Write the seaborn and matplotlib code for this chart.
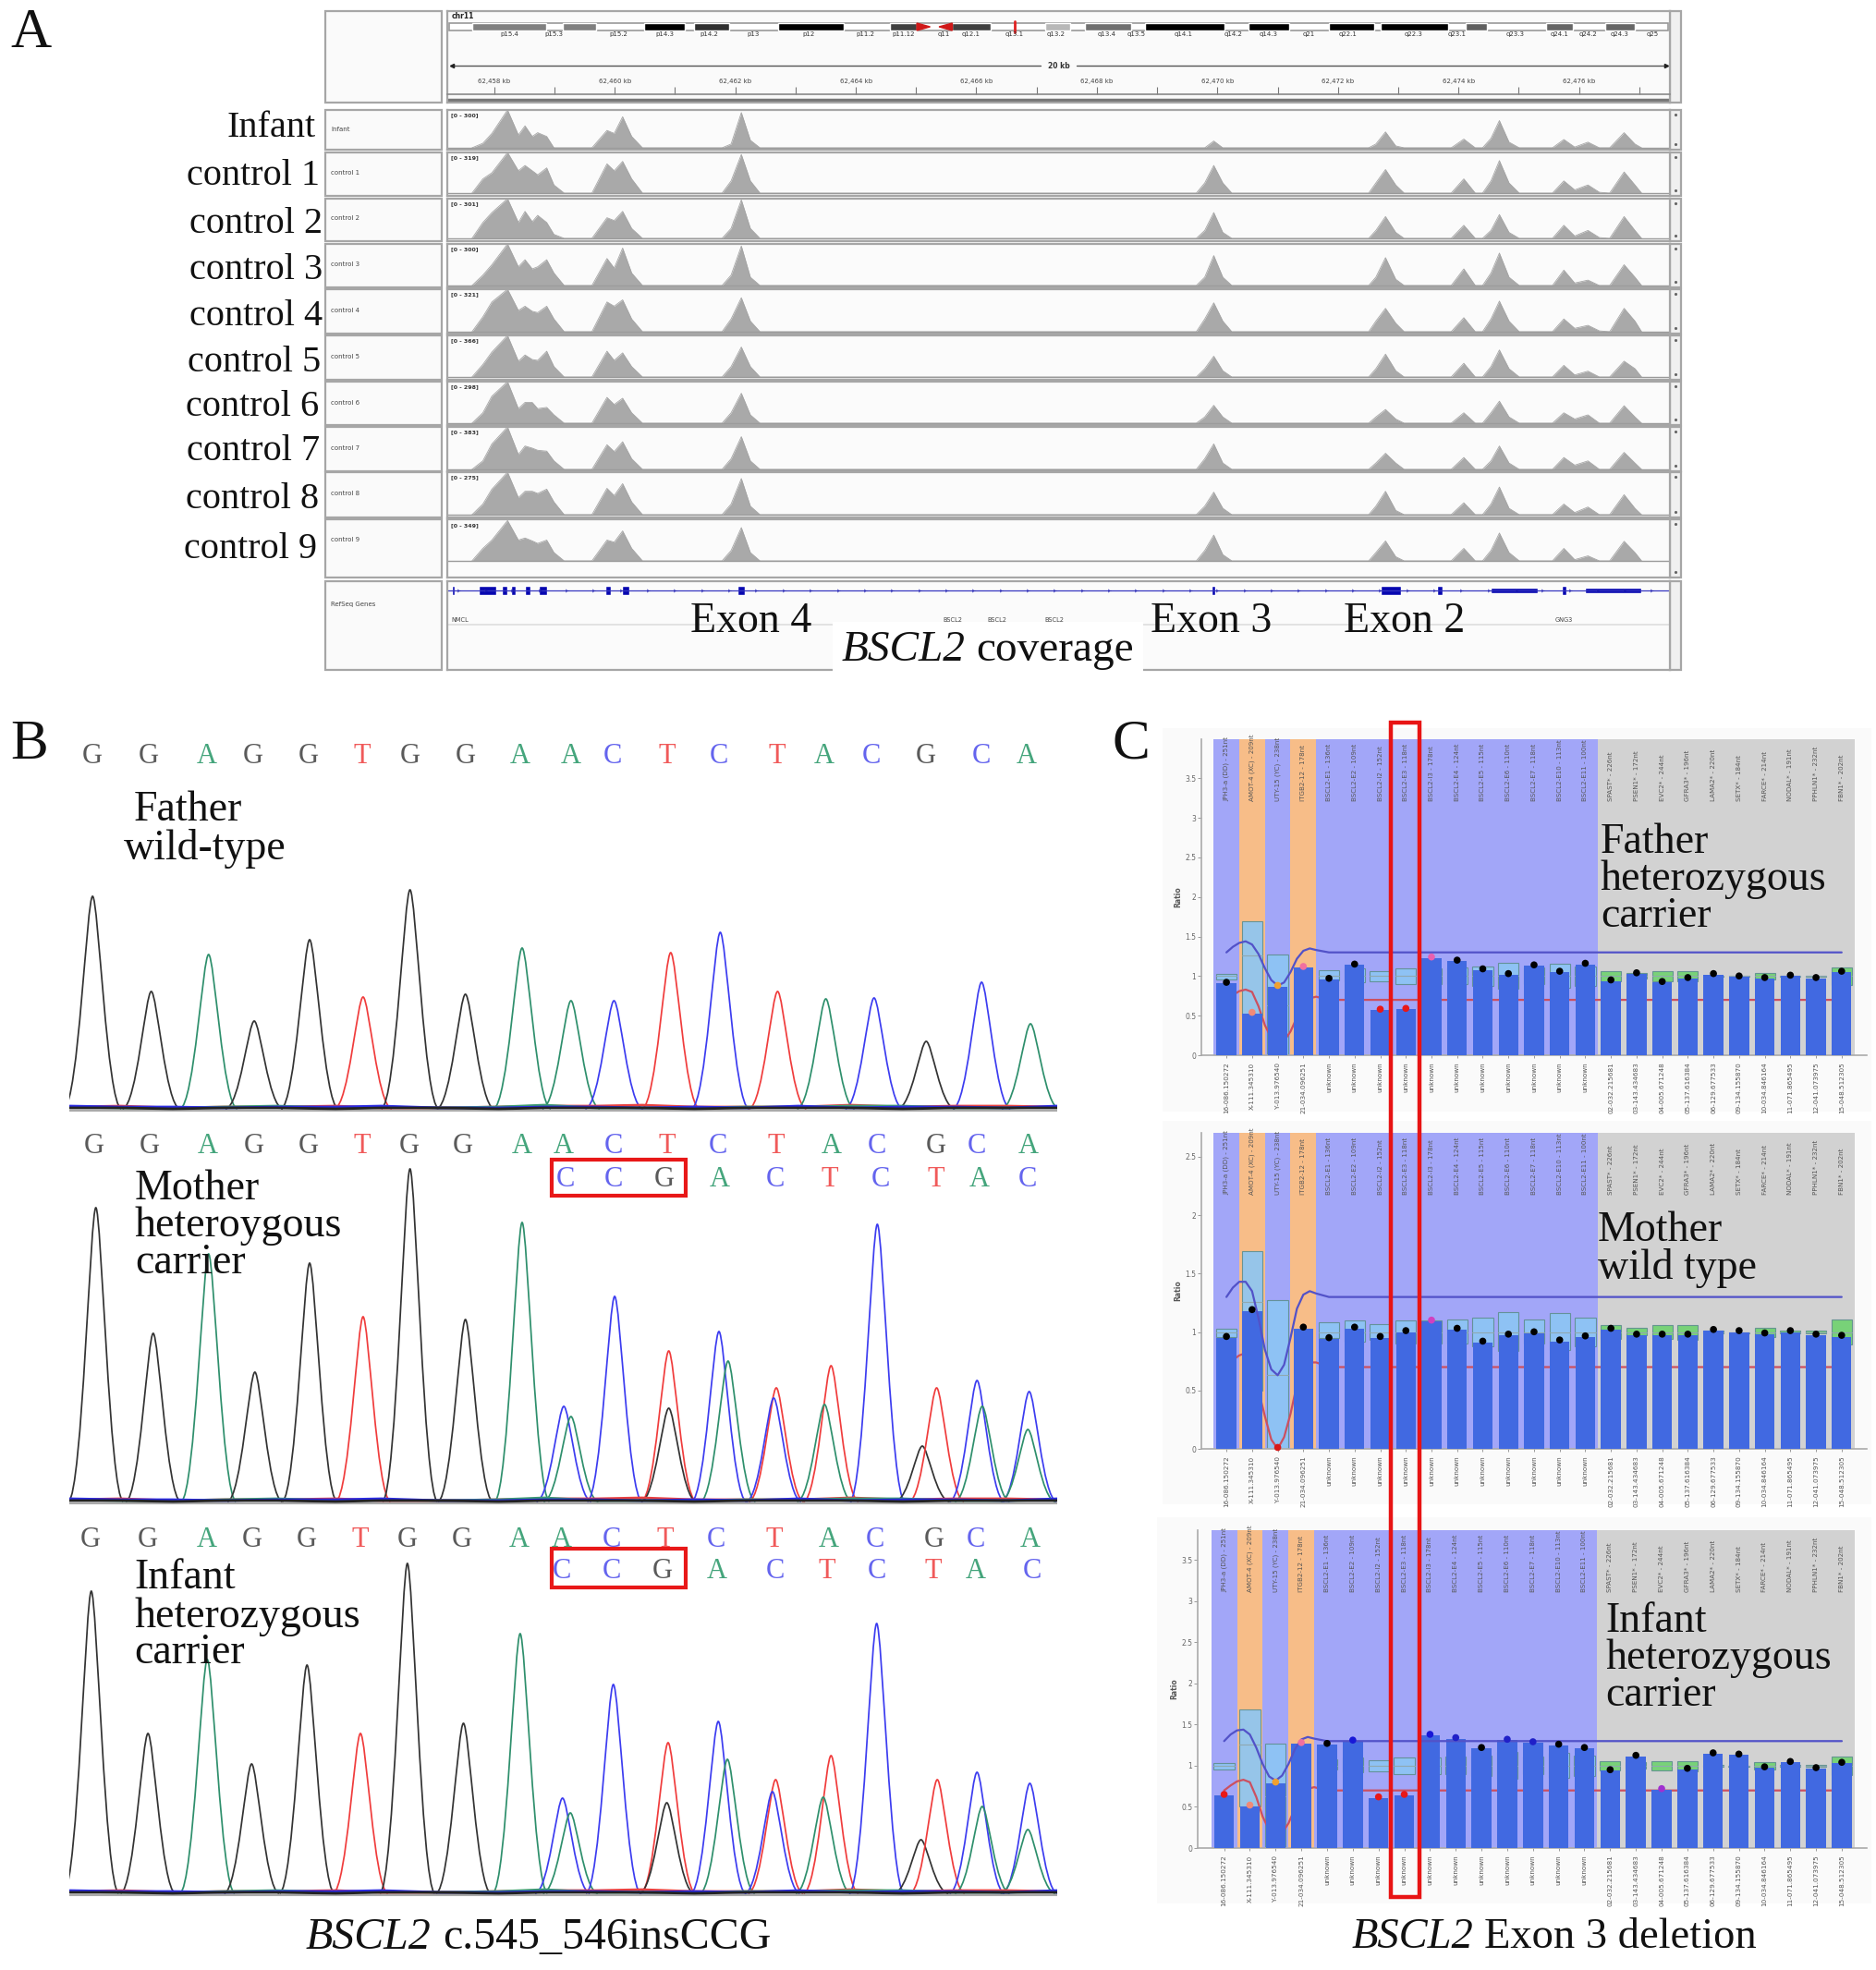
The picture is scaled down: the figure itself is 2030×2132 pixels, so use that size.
#!/usr/bin/env python
# -*- coding: utf-8 -*-

import numpy as np
import matplotlib
matplotlib.use("Agg")
import matplotlib.pyplot as plt
from matplotlib.patches import Rectangle, PathPatch
from matplotlib.path import Path
from matplotlib.transforms import blended_transform_factory
import seaborn as sns

sns.set_theme(style="white")
plt.rcParams['font.family'] = ['Liberation Serif', 'DejaVu Serif']
plt.rcParams['axes.unicode_minus'] = False

W, H = 2031, 2132

## Panel A data: coverage knots, kb from 62,458 kb
cov_pos = [-0.37, -0.19, -0.04, 0.22, 0.40, 0.51, 0.63, 0.72, 0.87, 0.99, 1.16,
           1.62, 1.87, 1.99, 2.13, 2.28, 2.46,
           3.78, 3.93, 4.10, 4.25, 4.41,
           11.65, 11.79, 11.94, 12.09, 12.24,
           14.51, 14.63, 14.79, 14.96, 15.10,
           15.88, 16.09, 16.28,
           16.40, 16.54, 16.68, 16.84, 17.01,
           17.56, 17.75, 17.93, 18.15, 18.34,
           18.51, 18.75, 18.93, 19.04]

cov_infant = [0, .12, .38, 1, .34, .58, .3, .4, .3, 0, 0, 0, .46, .38, .82, .3, 0, 0, .1, .93, .2, 0,
              0, 0, .18, 0, 0, 0, .1, .42, .05, 0, 0, .23, 0, 0, .25, .72, .15, 0, 0, .22, .02, .15, 0, 0, .4, .1, 0]
cov_control1 = [0, .35, .5, 1, .55, .68, .55, .45, .62, .2, 0, 0, .72, .55, .78, .35, 0, 0, .3, .95, .3, 0,
                0, .25, .68, .25, 0, 0, .25, .58, .2, 0, 0, .35, 0, 0, .3, .8, .25, 0, 0, .3, .08, .2, .02, 0, .52, .2, 0]
cov_control2 = [0, .4, .65, 1, .4, .68, .42, .58, .4, .1, 0, 0, .52, .45, .68, .25, 0, 0, .25, .97, .25, 0,
                0, .2, .65, .15, 0, 0, .2, .55, .15, 0, 0, .33, 0, 0, .2, .6, .15, 0, 0, .33, .06, .2, .02, 0, .55, .2, 0]
cov_control3 = [0, .25, .5, 1, .45, .62, .4, .45, .62, .3, 0, 0, .65, .42, .9, .3, 0, 0, .25, .95, .2, 0,
                0, .2, .72, .2, 0, 0, .2, .67, .15, 0, 0, .4, 0, 0, .3, .78, .2, 0, 0, .37, .06, .13, 0, 0, .5, .2, 0]
cov_control4 = [0, .35, .7, 1, .5, .6, .48, .45, .6, .3, 0, 0, .7, .6, .75, .3, 0, 0, .3, .8, .25, 0,
                0, .3, .68, .25, 0, 0, .25, .55, .2, 0, 0, .33, 0, 0, .3, .72, .25, 0, 0, .3, .08, .15, .02, 0, .55, .25, 0]
cov_control5 = [0, .3, .6, 1, .38, .53, .42, .4, .62, .25, 0, 0, .62, .4, .58, .25, 0, 0, .25, .72, .25, 0,
                0, .2, .5, .15, 0, 0, .2, .55, .15, 0, 0, .33, 0, 0, .25, .65, .2, 0, 0, .28, .05, .14, 0, 0, .38, .2, 0]
cov_control6 = [0, .25, .65, 1, .35, .5, .5, .35, .38, .2, 0, 0, .62, .45, .6, .25, 0, 0, .25, .72, .2, 0,
                0, .15, .43, .15, 0, 0, .15, .33, .1, 0, 0, .25, 0, 0, .25, .53, .15, 0, 0, .25, .1, .2, 0, 0, .42, .15, 0]
cov_control7 = [0, .2, .6, 1, .35, .55, .5, .45, .43, .2, 0, 0, .58, .42, .65, .25, 0, 0, .25, .77, .2, 0,
                0, .25, .6, .15, 0, 0, .15, .38, .15, 0, 0, .28, 0, 0, .2, .55, .15, 0, 0, .28, .1, .2, 0, 0, .4, .15, 0]
cov_control8 = [0, .25, .6, 1, .4, .55, .55, .5, .6, .3, 0, 0, .62, .45, .73, .3, 0, 0, .25, .85, .2, 0,
                0, .2, .53, .15, 0, 0, .2, .55, .1, 0, 0, .28, 0, 0, .25, .65, .15, 0, 0, .25, .05, .18, 0, 0, .47, .15, 0]
cov_control9 = [0, .3, .5, .97, .5, .55, .48, .42, .5, .2, 0, 0, .5, .45, .72, .3, 0, 0, .25, .8, .2, 0,
                0, .25, .62, .15, 0, 0, .2, .48, .1, 0, 0, .3, 0, 0, .25, .67, .2, 0, 0, .3, .03, .12, 0, 0, .47, .2, 0]

track_names = ["Infant", "control 1", "control 2", "control 3", "control 4",
               "control 5", "control 6", "control 7", "control 8", "control 9"]
track_ranges = ["[0 - 300]", "[0 - 319]", "[0 - 301]", "[0 - 300]", "[0 - 321]",
                "[0 - 366]", "[0 - 298]", "[0 - 383]", "[0 - 275]", "[0 - 349]"]
track_values = [cov_infant, cov_control1, cov_control2, cov_control3, cov_control4,
                cov_control5, cov_control6, cov_control7, cov_control8, cov_control9]

exon_start = [-0.71, -0.26, 0.13, 0.28, 0.51, 0.74, 1.84, 2.12, 4.04, 11.91, 14.71, 15.65, 17.72]
exon_end = [-0.65, 0.03, 0.21, 0.35, 0.60, 0.87, 1.94, 2.24, 4.16, 11.97, 15.04, 15.74, 17.79]
utr_start = [16.54, 18.10]
utr_end = [17.31, 19.03]

band_start = [178, 280, 372, 429, 523, 650, 720, 825, 870, 938, 1054, 1145, 1203, 1300, 1390, 1457]
band_end = [262, 318, 418, 468, 597, 680, 763, 853, 922, 1027, 1100, 1196, 1280, 1323, 1420, 1490]
band_grey = ['#808080', '#808080', '#000000', '#303030', '#000000', '#404040', '#404040', '#b8b8b8',
             '#707070', '#000000', '#000000', '#000000', '#000000', '#606060', '#666666', '#666666']
band_names = ["p15.4", "p15.3", "p15.2", "p14.3", "p14.2", "p13", "p12", "p11.2", "p11.12", "q11", "q12.1",
              "q13.1", "q13.2", "q13.4", "q13.5", "q14.1", "q14.2", "q14.3", "q21", "q22.1", "q22.3", "q23.1",
              "q23.3", "q24.1", "q24.2", "q24.3", "q25"]
band_name_pos = [220, 270, 343, 395, 446, 495, 558, 622, 665, 710, 741, 790, 837, 894, 928, 981, 1037, 1077,
                 1122, 1167, 1241, 1290, 1355, 1405, 1438, 1473, 1510]

## Panel B data: trace peaks, scan position and height
calls_top = "GGAGGTGGAACTCTACGCA"
calls_ins = "CCGACTCTAC"
father_peak_x = [57, 147, 235, 305, 390, 472, 544, 629, 716, 791, 857, 944, 1020, 1108, 1182, 1256, 1336, 1421, 1496]
father_peak_h = [230, 127, 167, 95, 183, 121, 237, 124, 174, 117, 117, 169, 191, 127, 119, 120, 73, 137, 92]
father_call_x = [57, 143, 232, 303, 388, 470, 544, 629, 713, 791, 855, 938, 1018, 1107, 1179, 1252, 1336, 1420, 1490]

hetero_bases = "GGAGGTGGACACTGCATCTACGTCACA"
mother_peak_x = [62, 150, 235, 306, 390, 472, 544, 629, 716, 780, 791, 858, 941, 941, 1018, 1032, 1106, 1102, 1190,
                 1180, 1261, 1330, 1352, 1414, 1422, 1494, 1492]
mother_peak_h = [318, 182, 268, 140, 258, 200, 360, 197, 302, 103, 92, 222, 163, 101, 184, 152, 123, 112, 147,
                 105, 300, 60, 123, 131, 103, 119, 78]
mother_call_x = [60, 145, 233, 305, 388, 470, 543, 625, 715, 780, 856, 938, 1017, 1106, 1190, 1261, 1351, 1414, 1492]
mother_ins_x = [783, 856, 934, 1019, 1105, 1188, 1266, 1351, 1417, 1491]

infant_peak_x = [55, 142, 233, 301, 386, 468, 540, 626, 713, 778, 790, 856, 940, 938, 1017, 1031, 1105, 1100, 1190,
                 1178, 1260, 1328, 1353, 1414, 1422, 1495, 1492]
infant_peak_h = [327, 173, 253, 140, 247, 173, 357, 184, 281, 103, 87, 226, 163, 98, 186, 145, 123, 110, 149,
                 104, 292, 58, 123, 131, 94, 119, 69]
infant_call_x = [53, 142, 232, 302, 386, 467, 540, 624, 712, 777, 853, 936, 1014, 1103, 1187, 1258, 1348, 1412, 1495]
infant_ins_x = [777, 853, 931, 1015, 1105, 1184, 1261, 1347, 1412, 1498]

noise_x = [22, 100, 180, 260, 340, 430, 500, 590, 680, 750, 830, 900, 980, 1060, 1140, 1220, 1300, 1380, 1460, 1537]
noise_red = [2, 3, 1, 2, 2, 3, 1, 1, 2, 3, 3, 4, 2, 2, 2, 4, 2, 3, 3, 2]
noise_green = [2, 1, 1, 2, 3, 1, 2, 1, 2, 4, 1, 1, 1, 2, 2, 3, 3, 1, 1, 2]
noise_dark = [1, 1, 0, 1, 1, 0, 1, 1, 0, 1, 1, 1, 0, 1, 1, 1, 0, 1, 1, 1]
noise_blue = [3, 2, 2, 1, 2, 2, 3, 1, 1, 2, 2, 1, 2, 1, 3, 1, 2, 2, 1, 3]

## Panel C data: probes and ratios
top_labels = ["JPH3-a (DD) - 251nt", "AMOT-4 (XC) - 209nt", "UTY-15 (YC) - 238nt", "ITGB2-12 - 178nt",
              "BSCL2-E1 - 136nt", "BSCL2-E2 - 109nt", "BSCL2-I2 - 152nt", "BSCL2-E3 - 118nt", "BSCL2-I3 - 178nt",
              "BSCL2-E4 - 124nt", "BSCL2-E5 - 115nt", "BSCL2-E6 - 110nt", "BSCL2-E7 - 118nt", "BSCL2-E10 - 113nt",
              "BSCL2-E11 - 100nt", "SPAST* - 226nt", "PSEN1* - 172nt", "EVC2* - 244nt", "GFRA3* - 196nt",
              "LAMA2* - 220nt", "SETX* - 184nt", "FARCE* - 214nt", "NODAL* - 191nt", "PPHLN1* - 232nt",
              "FBN1* - 202nt"]
bottom_labels = ["16-086.150272", "X-111.345310", "Y-013.976540", "21-034.096251"] + ["unknown"] * 11 + \
                ["02-032.215681", "03-143.434683", "04-005.671248", "05-137.616384", "06-129.677533",
                 "09-134.155870", "10-034.846164", "11-071.865495", "12-041.073975", "15-048.512305"]

father_ratio = [.91, .53, .87, 1.11, .96, 1.14, .57, .58, 1.23, 1.19, 1.08, 1.02, 1.13, 1.05, 1.15,
                .94, 1.03, .92, .97, 1.02, .99, .97, 1.0, .97, 1.05]
mother_ratio = [.95, 1.18, 0, 1.03, .94, 1.03, .95, 1.0, 1.09, 1.02, .91, .97, .99, .92, .955,
                1.02, .97, .97, .97, 1.01, 1.0, .98, 1.0, .97, .96]
infant_ratio = [.64, .51, .79, 1.27, 1.26, 1.30, .61, .64, 1.37, 1.33, 1.21, 1.31, 1.28, 1.25, 1.21,
                .94, 1.115, .71, .957, 1.145, 1.13, .975, 1.04, .965, 1.03]

ref_high = [1.03, 1.69, 1.27, 1.0, 1.08, 1.10, 1.065, 1.10, 1.10, 1.11, 1.12, 1.17, 1.11, 1.16, 1.12,
            1.06, 1.04, 1.06, 1.06, 1.01, 1.0, 1.04, 1.01, 1.01, 1.11]
ref_low = [.96, .50, 0, 1.0, .95, .92, .93, .90, .90, .90, .88, .84, .90, .85, .88,
           .94, .97, .94, .93, .99, .99, .96, .99, .99, .89]
ref_mid = [1.0, 1.26, .63, 1.0, 1.0, 1.0, 1.0, 1.0, 1.0, 1.0, 1.0, 1.0, 1.0, 1.0, 1.0,
           1.0, 1.0, 1.0, 1.0, 1.0, 1.0, 1.0, 1.0, 1.0, 1.0]

limit_x = [0, .25, .5, .75, 1, 1.25, 1.5, 1.75, 2, 2.25, 2.5, 2.75, 3, 3.25, 3.5, 4, 24]
father_upper = [1.30, 1.37, 1.42, 1.44, 1.40, 1.28, 1.10, .95, .88, .92, 1.05, 1.22, 1.32, 1.35, 1.33, 1.30, 1.30]
mother_upper = [1.30, 1.38, 1.43, 1.43, 1.35, 1.12, .85, .68, .63, .72, .95, 1.2, 1.32, 1.35, 1.33, 1.30, 1.30]
infant_upper = [1.30, 1.38, 1.43, 1.44, 1.38, 1.22, 1.02, .87, .82, .88, 1.02, 1.2, 1.32, 1.35, 1.33, 1.30, 1.30]
father_lower = [.70, .76, .81, .83, .80, .62, .38, .22, .15, .18, .3, .48, .62, .72, .74, .70, .70]
mother_lower = [.70, .76, .80, .82, .75, .5, .28, .08, 0, .1, .3, .55, .68, .74, .74, .70, .70]
infant_lower = [.70, .76, .81, .83, .80, .62, .38, .22, .15, .18, .3, .48, .62, .72, .74, .70, .70]

BASE_COL = {'G': '#333333', 'A': '#2e8f6c', 'T': '#f03c3c', 'C': '#3c3cf0'}
CALL_COL = {'G': '#5a5a5a', 'A': '#45a57c', 'T': '#f05a5a', 'C': '#6464ee'}
FRAME = '#a6a6a6'
TRACK_L, TRACK_R, SCROLL_R = 484, 1807, 1819

fig = plt.figure(figsize=(W / 100, H / 100), dpi=100, facecolor='white')


def px_axes(x0, y0, x1, y1, **kw):
    return fig.add_axes([x0 / W, 1 - y1 / H, (x1 - x0) / W, (y1 - y0) / H], **kw)


bg = px_axes(0, 0, W, H, zorder=-1)
bg.set_xlim(0, W)
bg.set_ylim(H, 0)
bg.axis('off')
fg = px_axes(0, 0, W, H, zorder=10)
fg.set_xlim(0, W)
fg.set_ylim(H, 0)
fg.axis('off')
fg.patch.set_alpha(0)


def frame_box(x0, y0, x1, y1, face='#fafafa', edge=FRAME, lw=1.6):
    bg.add_patch(Rectangle((x0, y0), x1 - x0, y1 - y0, facecolor=face, edgecolor=edge, lw=lw))


def gene_caption(x_left, y, size, rest, box_pad=None):
    # gene name in italics, the rest upright right after it
    bbox = dict(facecolor='white', edgecolor='none', pad=box_pad) if box_pad else None
    t = fg.text(x_left, y, "BSCL2", style='italic', va='center', fontsize=size, color='#111111', bbox=bbox)
    x1 = t.get_window_extent(fig.canvas.get_renderer()).x1
    fg.text(x1 + .25 * size * 100 / 72, y, rest, va='center', fontsize=size, color='#111111', bbox=bbox)


## ---------- Panel A ----------
KB_LEFT, KB_RIGHT = -0.78, 19.51
track_px = [(119, 160, 162), (165, 209, 212), (215, 258, 261), (264, 309, 311), (313, 359, 361),
            (363, 408, 411), (413, 458, 460), (462, 508, 510), (511, 557, 560), (562, 607, 625)]
big_label_right = [342, 346, 349, 349, 349, 347, 345, 346, 345, 343]
big_label_y = [138, 191, 242, 292, 342, 392, 440, 488, 540, 594]

frame_box(352, 12, 478, 111)
frame_box(TRACK_R, 12, SCROLL_R, 111, face='#f0f0f0')

# ideogram
ideo = px_axes(TRACK_L, 12, TRACK_R, 111)
ideo.set_xlim(150, 1530)
ideo.set_ylim(99, 0)
ideo.set_facecolor('#fafafa')
for s in ideo.spines.values():
    s.set_color(FRAME)
    s.set_linewidth(1.6)
ideo.set_xticks([])
ideo.set_yticks([])
ideo.add_patch(Rectangle((152, 13), 1376, 8, facecolor='white', edgecolor='#999999', lw=1.2))
ideo.barh([17] * len(band_start), np.array(band_end) - np.array(band_start), left=band_start, height=8,
          color=band_grey)
ideo.fill([680, 695, 680], [13, 17, 21], color='#d01818')
ideo.fill([720, 705, 720], [13, 17, 21], color='#d01818')
ideo.plot([790, 790], [11, 23], color='#e02020', lw=2)
for nm, pos in zip(band_names, band_name_pos):
    ideo.text(pos, 25, nm, ha='center', va='center', fontsize=5, family='DejaVu Sans', color='#333333')
ideo.text(155, 6, "chr11", fontsize=5.5, family='DejaVu Sans', weight='bold', va='center', color='#222222')
ideo.plot([155, 820], [59, 59], color='#555555', lw=1)
ideo.plot([860, 1526], [59, 59], color='#555555', lw=1)
ideo.plot([155], [59], marker='<', ms=3, color='#222222')
ideo.plot([1526], [59], marker='>', ms=3, color='#222222')
ideo.text(840, 59, "20 kb", ha='center', va='center', fontsize=5.5, family='DejaVu Sans', weight='bold', color='#333333')
ideo.axhline(96, color='#777777', lw=2.5)

# ruler
ruler = px_axes(TRACK_L, 92, TRACK_R, 102)
ruler.patch.set_alpha(0)
ruler.set_xlim(KB_LEFT, KB_RIGHT)
ruler.set_yticks([])
for side in ['top', 'left', 'right']:
    ruler.spines[side].set_visible(False)
ruler.spines['bottom'].set_color('#888888')
ruler.spines['bottom'].set_linewidth(1.2)
ruler.set_xticks(np.arange(0, 20, 2))
ruler.set_xticklabels(["62,%03d kb" % (458 + k) for k in np.arange(0, 20, 2)], fontsize=5, family='DejaVu Sans',
                      color='#444444')
ruler.set_xticks(np.arange(1, 20, 2), minor=True)
ruler.tick_params(axis='x', which='both', bottom=True, direction='in', length=5.5, width=.8, color='#777777',
                  labeltop=True, labelbottom=False, pad=1)

# tracks
for i, nm in enumerate(track_names):
    top, base, bottom = track_px[i]
    frame_box(352, top, 478, bottom)
    frame_box(TRACK_R, top, SCROLL_R, bottom, face='#f0f0f0')
    fg.plot([1813, 1813], [top + 5, bottom - 6], ls='none', marker='.', ms=2.5, color='#666666')
    fg.text(358, (top + base) / 2, nm, fontsize=5, family='DejaVu Sans', color='#444444', va='center')
    ax = px_axes(TRACK_L, top, TRACK_R, bottom)
    ax.set_facecolor('#fbfbfb')
    ax.set_xlim(KB_LEFT, KB_RIGHT)
    ax.set_ylim((base - bottom) / (base - top), 1.0)
    sns.lineplot(x=cov_pos, y=track_values[i], color='#a4a4a4', lw=.6, ax=ax, estimator=None, sort=False)
    ax.fill_between(cov_pos, 0, track_values[i], color='#a9a9a9', lw=0)
    ax.axhline(0, color='#9a9a9a', lw=1)
    ax.set_xticks([])
    ax.set_yticks([])
    ax.set_xlabel('')
    ax.set_ylabel('')
    for s in ax.spines.values():
        s.set_color(FRAME)
        s.set_linewidth(1.6)
    ax.text(.003, .93, track_ranges[i], transform=ax.transAxes, va='top', fontsize=4.5, family='DejaVu Sans',
            weight='bold', color='#333333')
    fg.text(big_label_right[i], big_label_y[i], nm, ha='right', va='center', fontsize=29, color='#111111')

# gene track
frame_box(352, 629, 478, 725)
frame_box(TRACK_R, 629, SCROLL_R, 725, face='#f0f0f0')
fg.text(358, 654, "RefSeq Genes", fontsize=5, family='DejaVu Sans', color='#444444', va='center')
gene = px_axes(TRACK_L, 629, TRACK_R, 725)
gene.set_facecolor('#fbfbfb')
gene.set_xlim(KB_LEFT, KB_RIGHT)
gene.set_ylim(96, 0)
gene.set_xticks([])
gene.set_yticks([])
for s in gene.spines.values():
    s.set_color(FRAME)
    s.set_linewidth(1.6)
gene.axhline(10, color='#3535c0', lw=.9)
gene.plot(np.arange(-.6, 19.4, .45), [10] * len(np.arange(-.6, 19.4, .45)), ls='none', marker='4', ms=3,
          mew=.6, color='#2020b0')
gene.broken_barh([(s, e - s) for s, e in zip(exon_start, exon_end)], (5, 10), facecolor='#0808b0')
gene.broken_barh([(s, e - s) for s, e in zip(utr_start, utr_end)], (7, 6), facecolor='#0808b0')
gene.axhline(47, color='#dddddd', lw=1.2)
for nm, k in zip(["NMCL", "BSCL2", "BSCL2", "BSCL2", "GNG3"], [-.72, 7.6, 8.35, 9.3, 17.75]):
    gene.text(k, 42, nm, ha='left' if nm == "NMCL" else 'center', va='center', fontsize=4.8, family='DejaVu Sans', color='#444444')

fg.text(813, 673, "Exon 4", ha='center', va='center', fontsize=33, color='#111111')
fg.text(1311, 673, "Exon 3", ha='center', va='center', fontsize=33, color='#111111')
fg.text(1520, 673, "Exon 2", ha='center', va='center', fontsize=33, color='#111111')
gene_caption(911, 704, 34, "coverage", box_pad=7)

fg.text(11, 36, "A", fontsize=44, va='center', color='#111111')
fg.text(11, 806, "B", fontsize=44, va='center', color='#111111')
fg.text(1203, 806, "C", fontsize=44, va='center', color='#111111')


## ---------- Panel B ----------
SCAN_L, SCAN_R = 22, 1537
LANE_X0, LANE_X1 = 75.5, 1144


def scan_px(z):
    return LANE_X0 + (z - SCAN_L) / (SCAN_R - SCAN_L) * (LANE_X1 - LANE_X0)


def peak_patch(x, h, w, col):
    verts = [(x - w, 0), (x - .5 * w, .02 * h), (x - .2 * w, h), (x, h),
             (x + .2 * w, h), (x + .5 * w, .02 * h), (x + w, 0)]
    codes = [Path.MOVETO] + [Path.CURVE4] * 6
    return PathPatch(Path(verts, codes), facecolor='none', edgecolor=col, lw=1.25)


def trace_lane(base_px, bases, xs, hs, width):
    ax = px_axes(LANE_X0, base_px - 372, LANE_X1, base_px + 5)
    ax.patch.set_alpha(0)
    ax.set_xlim(SCAN_L, SCAN_R)
    ax.set_ylim(-5, 372)
    ax.axis('off')
    for b, x, h in zip(bases, xs, hs):
        ax.add_patch(peak_patch(x, h, width, BASE_COL[b]))
    ax.axhline(-2, color='#aaaaaa', lw=1.5)
    for vals, col in [(noise_red, '#e84040'), (noise_green, '#3a9a70'), (noise_blue, '#2a2ae0'), (noise_dark, '#222222')]:
        sns.lineplot(x=noise_x, y=vals, color=col, lw=2.0, ax=ax, estimator=None, sort=False)
    return ax


def call_row(text, xs, y):
    for b, x in zip(text, xs):
        fg.text(scan_px(x), y, b, ha='center', va='center', fontsize=22, color=CALL_COL[b])


trace_lane(1200, calls_top, father_peak_x, father_peak_h, 44)
trace_lane(1625, hetero_bases, mother_peak_x, mother_peak_h, 42)
trace_lane(2049, hetero_bases, infant_peak_x, infant_peak_h, 42)

call_row(calls_top, father_call_x, 818)
call_row(calls_top, mother_call_x, 1241)
call_row(calls_ins, mother_ins_x, 1277)
call_row(calls_top, infant_call_x, 1666)
call_row(calls_ins, infant_ins_x, 1701)

fg.add_patch(Rectangle((597, 1255), 145, 39, fill=False, edgecolor='#e81818', lw=3))
fg.add_patch(Rectangle((597, 1676), 145, 42, fill=False, edgecolor='#e81818', lw=3))

for txt, x, y in [("Father", 145, 877), ("wild-type", 134, 919),
                  ("Mother", 146, 1287), ("heteroygous", 146, 1327), ("carrier", 146, 1367),
                  ("Infant", 145, 1708), ("heterozygous", 145, 1750), ("carrier", 145, 1789)]:
    fg.text(x, y, txt, fontsize=33, va='center', color='#111111')
gene_caption(331, 2097, 34.5, "c.545_546insCCG")


## ---------- Panel C ----------
PERI, ORANGE, GREY = '#a2a6f8', '#f7bd88', '#d2d2d2'


def cnv_panel(px_box, xlim, ymax, yticks, ratio, upper, lower, dot_cols, panel_bg):
    frame = Rectangle((panel_bg[0], panel_bg[1]), panel_bg[2] - panel_bg[0], panel_bg[3] - panel_bg[1],
                      facecolor='#fafafa', edgecolor='none')
    bg.add_patch(frame)
    ax = px_axes(*px_box)
    ax.patch.set_alpha(0)
    idx = list(range(len(ratio)))
    sns.barplot(x=idx, y=ratio, color='#4169e1', saturation=1, width=.77, ax=ax, zorder=4, legend=False,
                linewidth=0, edgecolor='none')
    ax.set_xlim(*xlim)
    ax.set_ylim(0, ymax)
    for k in idx:
        if k >= 15:
            col = GREY
        elif k in (1, 3):
            col = ORANGE
        else:
            col = PERI
        ax.axvspan(k - .5, k + .5, color=col, lw=0, zorder=0)
    for k in idx:
        if ref_high[k] <= ref_low[k]:
            continue
        green = k >= 15
        ax.bar(k, ref_high[k] - ref_low[k], bottom=ref_low[k], width=.8,
               color='#6ed36e' if green else '#8cc6f4', edgecolor='#5f8f8f', lw=.8, alpha=.9, zorder=2)
        ax.plot([k - .4, k + .4], [ref_mid[k]] * 2, color='#8fa8b0', lw=.8, zorder=2)
    sns.lineplot(x=limit_x, y=lower, color='#cc5060', lw=1.6, ax=ax, estimator=None, sort=False, zorder=3)
    sns.lineplot(x=limit_x, y=upper, color='#5252c8', lw=1.6, ax=ax, estimator=None, sort=False, zorder=5)
    cols = [dot_cols.get(k, '#000000') for k in idx]
    ax.scatter(idx, np.array(ratio) + .012, c=cols, s=30, lw=0, zorder=6, clip_on=False)
    for s in ['top', 'right']:
        ax.spines[s].set_visible(False)
    for s in ['left', 'bottom']:
        ax.spines[s].set_visible(True)
        ax.spines[s].set_color('#aaaaaa')
        ax.spines[s].set_linewidth(1.2)
    ax.set_yticks(yticks)
    ax.set_yticklabels(["%g" % t for t in yticks], fontsize=5.5, family='DejaVu Sans', color='#666666')
    ax.tick_params(axis='y', left=True, length=3, width=.7, color='#999999', pad=1)
    ax.set_xticks(idx)
    ax.set_xticklabels(bottom_labels, rotation=90, fontsize=5.2, family='DejaVu Sans', color='#555555')
    ax.tick_params(axis='x', bottom=True, length=2.5, width=.7, color='#999999', pad=3)
    ax.set_ylabel("Ratio", fontsize=5.5, family='DejaVu Sans', weight='bold', color='#555555', labelpad=2)
    ax.set_xlabel('')
    trans = blended_transform_factory(ax.transData, ax.transAxes)
    for k in idx:
        ax.text(k, .805, top_labels[k], transform=trans, rotation=90, ha='center', va='bottom', fontsize=5.1,
                family='DejaVu Sans', color='#555555', clip_on=False, zorder=7)
    return ax


cnv_panel((1300, 800, 2020, 1142), (-.977, 24.98), 3.995, [0, .5, 1, 1.5, 2, 2.5, 3, 3.5], father_ratio,
          father_upper, father_lower, {1: '#f08a78', 2: '#f0a030', 3: '#f070a0', 6: '#e81818', 7: '#e81818', 8: '#e860b0'},
          (1258, 788, 2025, 1203))
cnv_panel((1300, 1226, 2020, 1568), (-.977, 24.98), 2.705, [0, .5, 1, 1.5, 2, 2.5], mother_ratio,
          mother_upper, mother_lower, {2: '#d81818', 8: '#d040c0'},
          (1258, 1213, 2025, 1628))
cnv_panel((1296, 1656, 2020, 2000), (-1.027, 24.97), 3.864, [0, .5, 1, 1.5, 2, 2.5, 3, 3.5], infant_ratio,
          infant_upper, infant_lower, {0: '#e81818', 1: '#f08a78', 2: '#f0a030', 3: '#f070a0', 5: '#1818d8', 6: '#e81818',
                                       7: '#e81818', 8: '#1818d8', 9: '#2020c8', 11: '#2020c8', 12: '#2020c8', 17: '#a030d0'},
          (1252, 1642, 2025, 2060))

fg.add_patch(Rectangle((1505, 782), 31, 1271, fill=False, edgecolor='#e81414', lw=3.2))

for txt, x, y in [("Father", 1732, 912), ("heterozygous", 1732, 952), ("carrier", 1732, 992),
                  ("Mother", 1729, 1332), ("wild type", 1729, 1372),
                  ("Infant", 1737, 1755), ("heterozygous", 1737, 1795), ("carrier", 1737, 1835)]:
    fg.text(x, y, txt, fontsize=33, va='center', color='#111111')
gene_caption(1463, 2097, 33.5, "Exon 3 deletion")

fig.savefig("out.png", dpi=100, facecolor='white')
